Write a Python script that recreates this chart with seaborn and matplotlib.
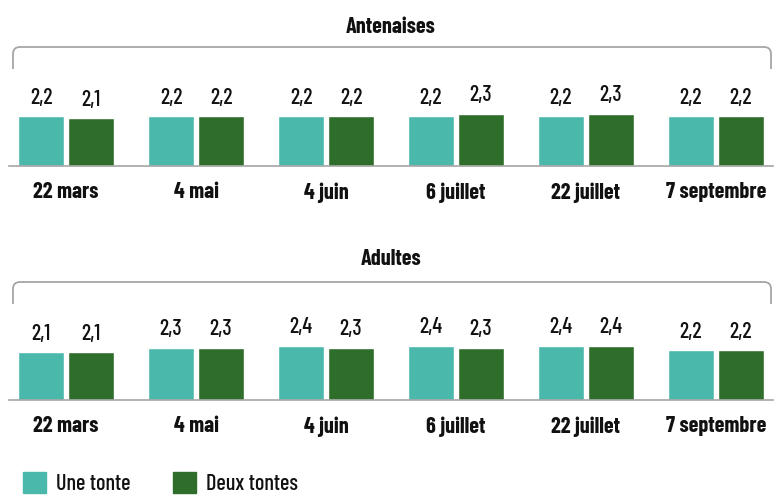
import matplotlib.pyplot as plt
import pandas as pd
import seaborn as sns
from matplotlib.path import Path
from matplotlib.patches import PathPatch

# Data
dates = ['22 mars', '4 mai', '4 juin', '6 juillet', '22 juillet', '7 septembre']
series = ['Une tonte', 'Deux tontes']
antenaises_une = [2.2, 2.2, 2.2, 2.2, 2.2, 2.2]
antenaises_deux = [2.1, 2.2, 2.2, 2.3, 2.3, 2.2]
adultes_une = [2.1, 2.3, 2.4, 2.4, 2.4, 2.2]
adultes_deux = [2.1, 2.3, 2.3, 2.3, 2.4, 2.2]
panels = ['Antenaises', 'Adultes']
colors = ['#4bb8ac', '#2f6e2a']

sns.set_style('white')
plt.rcParams['font.family'] = ['Barlow Condensed', 'Roboto Condensed',
                               'Fira Sans Condensed', 'Archivo Narrow',
                               'PT Sans Narrow', 'DejaVu Sans']

W, H = 782, 500
fig = plt.figure(figsize=(W / 100, H / 100), dpi=100)


def long_df(une, deux):
    return pd.DataFrame({
        'date': dates * 2,
        'serie': [series[0]] * len(dates) + [series[1]] * len(dates),
        'value': une + deux,
    })


def bracket(y_top, y_bot, x0=13, x1=771, r=7):
    # open rounded bracket drawn in pixel coords
    pts = [(x0, y_bot), (x0, y_top + r), (x0, y_top), (x0 + r, y_top),
           (x1 - r, y_top), (x1, y_top), (x1, y_top + r), (x1, y_bot)]
    codes = [Path.MOVETO, Path.LINETO, Path.CURVE3, Path.CURVE3,
             Path.LINETO, Path.CURVE3, Path.CURVE3, Path.LINETO]
    pts = [(x / W, 1 - y / H) for x, y in pts]
    fig.patches.append(PathPatch(Path(pts, codes), transform=fig.transFigure,
                                 fill=False, edgecolor='#a6a6a6', lw=1.3))


px_per_unit = 22.5
ax_h = 62
layout = [
    (panels[0], antenaises_une, antenaises_deux, 165.5, 27, 47, 69),
    (panels[1], adultes_une, adultes_deux, 399.5, 259, 282, 304),
]

for title, une, deux, base, ty, bt, bb in layout:
    ax = fig.add_axes([9 / W, (H - base) / H, 764 / W, ax_h / H])
    df = long_df(une, deux)
    sns.barplot(data=df, x='date', y='value', hue='serie', order=dates,
                hue_order=series, palette=colors, width=100 / 130, gap=0.08,
                saturation=1, legend=False, ax=ax)
    ax.set_xlim(-0.4385, 5.4385)
    ax.set_ylim(0, ax_h / px_per_unit)
    for cont, vals in zip(ax.containers, [une, deux]):
        ax.bar_label(cont, labels=[f'{v:.1f}'.replace('.', ',') for v in vals],
                     padding=6, fontsize=16, fontweight='medium',
                     color='#111111')
    for s in ['top', 'left', 'right']:
        ax.spines[s].set_visible(False)
    ax.spines['bottom'].set_color('#a6a6a6')
    ax.spines['bottom'].set_linewidth(1.2)
    ax.set_yticks([])
    ax.set_xlabel('')
    ax.set_ylabel('')
    ax.tick_params(axis='x', length=0, pad=12)
    for lab in ax.get_xticklabels():
        lab.set_fontsize(16)
        lab.set_fontweight('bold')
        lab.set_color('#111111')
    ax.patch.set_alpha(0)
    fig.text(391 / W, 1 - ty / H, title, ha='center', va='center',
             fontsize=16, fontweight='bold', color='#111111')
    bracket(bt, bb)

handles = [plt.Rectangle((0, 0), 1, 1, color=c) for c in colors]
fig.legend(handles, series, loc='lower left', bbox_to_anchor=(14 / W, -0.006),
           ncol=2, frameon=False, handlelength=1.05,
           handleheight=1.05, handletextpad=0.45, columnspacing=1.9,
           borderaxespad=0, labelcolor='#111111',
           prop={'size': 16, 'weight': 'medium'})

fig.savefig('out.png', dpi=100)
